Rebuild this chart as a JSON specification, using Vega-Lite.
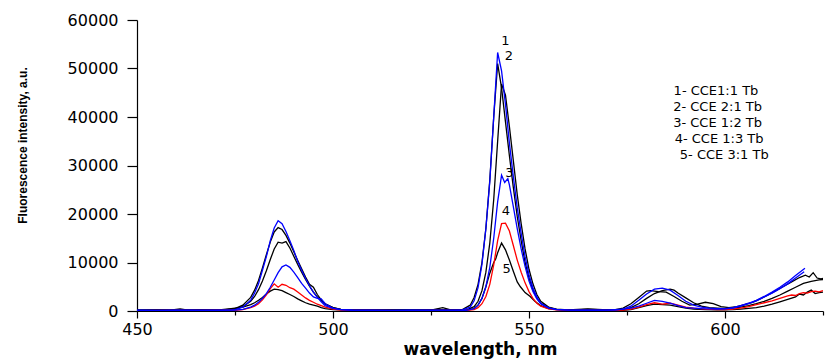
{
  "$schema": "https://vega.github.io/schema/vega-lite/v6.json",
  "width": 686,
  "height": 291,
  "autosize": {"type": "none"},
  "padding": {"left": 137, "top": 20, "right": 2, "bottom": 48},
  "background": "white",
  "config": {"view": {"stroke": null}, "axis": {"grid": false}},
  "datasets": {
    "curves": [
      {"c":"s1","w":450,"i":150},{"c":"s1","w":455,"i":120},{"c":"s1","w":460,"i":180},{"c":"s1","w":465,"i":140},{"c":"s1","w":470,"i":160},{"c":"s1","w":474,"i":200},
      {"c":"s1","w":475,"i":300},{"c":"s1","w":477,"i":800},{"c":"s1","w":479,"i":2200},{"c":"s1","w":480,"i":3700},{"c":"s1","w":481,"i":5600},{"c":"s1","w":482,"i":8400},{"c":"s1","w":483,"i":11200},{"c":"s1","w":484,"i":14500},{"c":"s1","w":485,"i":17100},{"c":"s1","w":486,"i":18600},{"c":"s1","w":487,"i":18000},{"c":"s1","w":488,"i":16400},{"c":"s1","w":489,"i":14500},{"c":"s1","w":490,"i":12500},{"c":"s1","w":491,"i":10200},{"c":"s1","w":492,"i":8400},{"c":"s1","w":493,"i":6700},{"c":"s1","w":494,"i":5200},{"c":"s1","w":495,"i":3900},{"c":"s1","w":496,"i":2800},{"c":"s1","w":497,"i":1900},{"c":"s1","w":498,"i":1100},{"c":"s1","w":500,"i":550},{"c":"s1","w":502,"i":280},{"c":"s1","w":505,"i":180},
      {"c":"s1","w":510,"i":150},{"c":"s1","w":515,"i":120},{"c":"s1","w":520,"i":150},{"c":"s1","w":525,"i":130},{"c":"s1","w":530,"i":180},
      {"c":"s1","w":533,"i":250},{"c":"s1","w":535,"i":800},{"c":"s1","w":536,"i":2100},{"c":"s1","w":537,"i":4800},{"c":"s1","w":538,"i":9600},{"c":"s1","w":539,"i":17000},{"c":"s1","w":540,"i":26700},{"c":"s1","w":541,"i":40000},{"c":"s1","w":542,"i":53300},{"c":"s1","w":543,"i":49500},{"c":"s1","w":544,"i":42600},{"c":"s1","w":545,"i":34600},{"c":"s1","w":546,"i":27700},{"c":"s1","w":547,"i":21300},{"c":"s1","w":548,"i":16000},{"c":"s1","w":549,"i":11200},{"c":"s1","w":550,"i":7500},{"c":"s1","w":551,"i":4800},{"c":"s1","w":552,"i":2900},{"c":"s1","w":553,"i":1600},{"c":"s1","w":555,"i":640},{"c":"s1","w":557,"i":320},{"c":"s1","w":560,"i":200},
      {"c":"s1","w":565,"i":150},{"c":"s1","w":570,"i":200},{"c":"s1","w":574,"i":400},{"c":"s1","w":576,"i":1000},{"c":"s1","w":578,"i":2200},{"c":"s1","w":580,"i":3500},{"c":"s1","w":582,"i":4500},{"c":"s1","w":584,"i":4700},{"c":"s1","w":586,"i":4300},{"c":"s1","w":588,"i":3200},{"c":"s1","w":590,"i":2000},{"c":"s1","w":592,"i":1200},{"c":"s1","w":594,"i":800},{"c":"s1","w":596,"i":600},{"c":"s1","w":598,"i":500},{"c":"s1","w":600,"i":500},{"c":"s1","w":602,"i":700},{"c":"s1","w":604,"i":1100},{"c":"s1","w":606,"i":1600},{"c":"s1","w":608,"i":2200},{"c":"s1","w":610,"i":3000},{"c":"s1","w":612,"i":3900},{"c":"s1","w":614,"i":4900},{"c":"s1","w":616,"i":6000},{"c":"s1","w":618,"i":7300},{"c":"s1","w":620.4,"i":8800},

      {"c":"s2","w":450,"i":100},{"c":"s2","w":455,"i":200},{"c":"s2","w":458,"i":150},{"c":"s2","w":461,"i":450},{"c":"s2","w":463,"i":200},{"c":"s2","w":468,"i":150},{"c":"s2","w":472,"i":250},{"c":"s2","w":474,"i":400},
      {"c":"s2","w":475,"i":500},{"c":"s2","w":477,"i":1200},{"c":"s2","w":479,"i":2800},{"c":"s2","w":480,"i":4300},{"c":"s2","w":481,"i":6300},{"c":"s2","w":482,"i":8900},{"c":"s2","w":483,"i":11600},{"c":"s2","w":484,"i":14200},{"c":"s2","w":485,"i":16300},{"c":"s2","w":486,"i":17200},{"c":"s2","w":487,"i":16800},{"c":"s2","w":488,"i":15600},{"c":"s2","w":489,"i":14000},{"c":"s2","w":490,"i":12200},{"c":"s2","w":491,"i":10400},{"c":"s2","w":492,"i":8700},{"c":"s2","w":493,"i":7000},{"c":"s2","w":494,"i":5500},{"c":"s2","w":495,"i":4900},{"c":"s2","w":496,"i":3400},{"c":"s2","w":497,"i":2300},{"c":"s2","w":498,"i":1500},{"c":"s2","w":500,"i":700},{"c":"s2","w":502,"i":350},{"c":"s2","w":505,"i":200},
      {"c":"s2","w":510,"i":200},{"c":"s2","w":515,"i":150},{"c":"s2","w":520,"i":180},{"c":"s2","w":525,"i":200},{"c":"s2","w":528,"i":700},{"c":"s2","w":530,"i":250},
      {"c":"s2","w":533,"i":300},{"c":"s2","w":535,"i":1200},{"c":"s2","w":536,"i":2800},{"c":"s2","w":537,"i":5500},{"c":"s2","w":538,"i":10000},{"c":"s2","w":539,"i":17000},{"c":"s2","w":540,"i":27000},{"c":"s2","w":541,"i":40000},{"c":"s2","w":542,"i":51000},{"c":"s2","w":543,"i":46000},{"c":"s2","w":544,"i":39000},{"c":"s2","w":545,"i":32000},{"c":"s2","w":546,"i":25500},{"c":"s2","w":547,"i":19500},{"c":"s2","w":548,"i":14500},{"c":"s2","w":549,"i":10000},{"c":"s2","w":550,"i":6800},{"c":"s2","w":551,"i":4400},{"c":"s2","w":552,"i":2700},{"c":"s2","w":553,"i":1600},{"c":"s2","w":555,"i":700},{"c":"s2","w":557,"i":350},{"c":"s2","w":560,"i":200},
      {"c":"s2","w":565,"i":350},{"c":"s2","w":570,"i":250},{"c":"s2","w":572,"i":300},{"c":"s2","w":574,"i":600},{"c":"s2","w":576,"i":1500},{"c":"s2","w":578,"i":2800},{"c":"s2","w":580,"i":4100},{"c":"s2","w":581,"i":4200},{"c":"s2","w":583,"i":4000},{"c":"s2","w":585,"i":3900},{"c":"s2","w":587,"i":3000},{"c":"s2","w":589,"i":2000},{"c":"s2","w":591,"i":1200},{"c":"s2","w":593,"i":1400},{"c":"s2","w":595,"i":1800},{"c":"s2","w":597,"i":1500},{"c":"s2","w":599,"i":900},{"c":"s2","w":601,"i":700},{"c":"s2","w":603,"i":900},{"c":"s2","w":605,"i":1300},{"c":"s2","w":607,"i":1800},{"c":"s2","w":609,"i":2500},{"c":"s2","w":611,"i":3300},{"c":"s2","w":613,"i":4200},{"c":"s2","w":615,"i":5100},{"c":"s2","w":617,"i":6000},{"c":"s2","w":619,"i":6900},{"c":"s2","w":620.5,"i":7400},{"c":"s2","w":621.5,"i":7000},{"c":"s2","w":622.5,"i":7900},{"c":"s2","w":623.5,"i":6800},{"c":"s2","w":624.5,"i":6600},{"c":"s2","w":625,"i":6700},

      {"c":"s3","w":450,"i":200},{"c":"s3","w":456,"i":150},{"c":"s3","w":462,"i":250},{"c":"s3","w":468,"i":180},{"c":"s3","w":473,"i":300},
      {"c":"s3","w":475,"i":400},{"c":"s3","w":477,"i":900},{"c":"s3","w":479,"i":2000},{"c":"s3","w":480,"i":3000},{"c":"s3","w":481,"i":4400},{"c":"s3","w":482,"i":6200},{"c":"s3","w":483,"i":8300},{"c":"s3","w":484,"i":10600},{"c":"s3","w":485,"i":12800},{"c":"s3","w":486,"i":14200},{"c":"s3","w":487,"i":14000},{"c":"s3","w":488,"i":14300},{"c":"s3","w":489,"i":13000},{"c":"s3","w":490,"i":11300},{"c":"s3","w":491,"i":9600},{"c":"s3","w":492,"i":8000},{"c":"s3","w":493,"i":6500},{"c":"s3","w":494,"i":5100},{"c":"s3","w":495,"i":3900},{"c":"s3","w":496,"i":2900},{"c":"s3","w":497,"i":2100},{"c":"s3","w":498,"i":1400},{"c":"s3","w":500,"i":700},{"c":"s3","w":502,"i":350},{"c":"s3","w":505,"i":250},
      {"c":"s3","w":510,"i":250},{"c":"s3","w":516,"i":200},{"c":"s3","w":522,"i":250},{"c":"s3","w":528,"i":200},{"c":"s3","w":531,"i":300},
      {"c":"s3","w":534,"i":200},{"c":"s3","w":536,"i":900},{"c":"s3","w":537,"i":2000},{"c":"s3","w":538,"i":4200},{"c":"s3","w":539,"i":8000},{"c":"s3","w":540,"i":14000},{"c":"s3","w":541,"i":23000},{"c":"s3","w":542,"i":35000},{"c":"s3","w":543,"i":46800},{"c":"s3","w":544,"i":44500},{"c":"s3","w":545,"i":38000},{"c":"s3","w":546,"i":31000},{"c":"s3","w":547,"i":24000},{"c":"s3","w":548,"i":18000},{"c":"s3","w":549,"i":12800},{"c":"s3","w":550,"i":8600},{"c":"s3","w":551,"i":5600},{"c":"s3","w":552,"i":3400},{"c":"s3","w":553,"i":2000},{"c":"s3","w":555,"i":800},{"c":"s3","w":557,"i":400},{"c":"s3","w":560,"i":250},
      {"c":"s3","w":565,"i":450},{"c":"s3","w":570,"i":250},{"c":"s3","w":574,"i":300},{"c":"s3","w":576,"i":700},{"c":"s3","w":578,"i":1500},{"c":"s3","w":580,"i":2600},{"c":"s3","w":582,"i":3600},{"c":"s3","w":584,"i":4200},{"c":"s3","w":586,"i":4500},{"c":"s3","w":587,"i":4300},{"c":"s3","w":588,"i":3700},{"c":"s3","w":590,"i":2700},{"c":"s3","w":592,"i":1700},{"c":"s3","w":594,"i":1000},{"c":"s3","w":596,"i":700},{"c":"s3","w":598,"i":600},{"c":"s3","w":600,"i":500},{"c":"s3","w":602,"i":600},{"c":"s3","w":604,"i":800},{"c":"s3","w":606,"i":1100},{"c":"s3","w":608,"i":1500},{"c":"s3","w":610,"i":2000},{"c":"s3","w":612,"i":2600},{"c":"s3","w":614,"i":3300},{"c":"s3","w":616,"i":4100},{"c":"s3","w":618,"i":4900},{"c":"s3","w":620,"i":5700},{"c":"s3","w":622,"i":6100},{"c":"s3","w":624,"i":6400},{"c":"s3","w":625,"i":6500},

      {"c":"s4","w":450,"i":120},{"c":"s4","w":457,"i":100},{"c":"s4","w":464,"i":150},{"c":"s4","w":470,"i":120},{"c":"s4","w":474,"i":200},
      {"c":"s4","w":475,"i":200},{"c":"s4","w":477,"i":350},{"c":"s4","w":479,"i":800},{"c":"s4","w":480,"i":1200},{"c":"s4","w":481,"i":1800},{"c":"s4","w":482,"i":2600},{"c":"s4","w":483,"i":3600},{"c":"s4","w":484,"i":4900},{"c":"s4","w":485,"i":6400},{"c":"s4","w":486,"i":7900},{"c":"s4","w":487,"i":9100},{"c":"s4","w":488,"i":9500},{"c":"s4","w":489,"i":9000},{"c":"s4","w":490,"i":8000},{"c":"s4","w":491,"i":6900},{"c":"s4","w":492,"i":5700},{"c":"s4","w":493,"i":4700},{"c":"s4","w":494,"i":3700},{"c":"s4","w":495,"i":2900},{"c":"s4","w":496,"i":2600},{"c":"s4","w":497,"i":2500},{"c":"s4","w":498,"i":1500},{"c":"s4","w":500,"i":600},{"c":"s4","w":502,"i":300},{"c":"s4","w":505,"i":150},
      {"c":"s4","w":510,"i":120},{"c":"s4","w":518,"i":100},{"c":"s4","w":525,"i":150},{"c":"s4","w":530,"i":120},
      {"c":"s4","w":534,"i":150},{"c":"s4","w":536,"i":500},{"c":"s4","w":537,"i":1200},{"c":"s4","w":538,"i":2600},{"c":"s4","w":539,"i":5000},{"c":"s4","w":540,"i":9000},{"c":"s4","w":541,"i":15000},{"c":"s4","w":542,"i":22500},{"c":"s4","w":543,"i":28000},{"c":"s4","w":543.8,"i":26500},{"c":"s4","w":544.6,"i":27300},{"c":"s4","w":545,"i":26000},{"c":"s4","w":546,"i":21500},{"c":"s4","w":547,"i":17000},{"c":"s4","w":548,"i":12800},{"c":"s4","w":549,"i":9200},{"c":"s4","w":550,"i":6200},{"c":"s4","w":551,"i":4000},{"c":"s4","w":552,"i":2500},{"c":"s4","w":553,"i":1500},{"c":"s4","w":555,"i":600},{"c":"s4","w":557,"i":300},{"c":"s4","w":560,"i":200},
      {"c":"s4","w":566,"i":150},{"c":"s4","w":572,"i":200},{"c":"s4","w":576,"i":600},{"c":"s4","w":578,"i":1000},{"c":"s4","w":580,"i":1600},{"c":"s4","w":582,"i":2200},{"c":"s4","w":584,"i":2000},{"c":"s4","w":586,"i":1600},{"c":"s4","w":588,"i":1100},{"c":"s4","w":590,"i":700},{"c":"s4","w":594,"i":500},{"c":"s4","w":598,"i":400},{"c":"s4","w":600,"i":450},{"c":"s4","w":602,"i":600},{"c":"s4","w":604,"i":1000},{"c":"s4","w":606,"i":1500},{"c":"s4","w":608,"i":2100},{"c":"s4","w":610,"i":2900},{"c":"s4","w":612,"i":3700},{"c":"s4","w":614,"i":4600},{"c":"s4","w":616,"i":5600},{"c":"s4","w":618,"i":6800},{"c":"s4","w":620.2,"i":8100},

      {"c":"s5","w":450,"i":80},{"c":"s5","w":458,"i":120},{"c":"s5","w":466,"i":100},{"c":"s5","w":474,"i":150},
      {"c":"s5","w":475,"i":150},{"c":"s5","w":477,"i":300},{"c":"s5","w":479,"i":700},{"c":"s5","w":480,"i":1000},{"c":"s5","w":481,"i":1500},{"c":"s5","w":482,"i":2300},{"c":"s5","w":483,"i":3300},{"c":"s5","w":484,"i":4600},{"c":"s5","w":485,"i":5600},{"c":"s5","w":486,"i":4900},{"c":"s5","w":487,"i":5500},{"c":"s5","w":488,"i":5300},{"c":"s5","w":489,"i":4800},{"c":"s5","w":490,"i":4500},{"c":"s5","w":491,"i":3900},{"c":"s5","w":492,"i":3300},{"c":"s5","w":493,"i":2700},{"c":"s5","w":494,"i":2200},{"c":"s5","w":495,"i":1800},{"c":"s5","w":496,"i":1400},{"c":"s5","w":497,"i":1100},{"c":"s5","w":498,"i":800},{"c":"s5","w":500,"i":400},{"c":"s5","w":502,"i":200},{"c":"s5","w":505,"i":100},
      {"c":"s5","w":510,"i":100},{"c":"s5","w":518,"i":80},{"c":"s5","w":526,"i":100},{"c":"s5","w":531,"i":100},
      {"c":"s5","w":534,"i":100},{"c":"s5","w":536,"i":300},{"c":"s5","w":537,"i":700},{"c":"s5","w":538,"i":1500},{"c":"s5","w":539,"i":3000},{"c":"s5","w":540,"i":5500},{"c":"s5","w":541,"i":9500},{"c":"s5","w":542,"i":14500},{"c":"s5","w":543,"i":18000},{"c":"s5","w":544,"i":18100},{"c":"s5","w":545,"i":16500},{"c":"s5","w":546,"i":13500},{"c":"s5","w":547,"i":10500},{"c":"s5","w":548,"i":8000},{"c":"s5","w":549,"i":5800},{"c":"s5","w":550,"i":4000},{"c":"s5","w":551,"i":2600},{"c":"s5","w":552,"i":1600},{"c":"s5","w":553,"i":1000},{"c":"s5","w":555,"i":450},{"c":"s5","w":557,"i":250},{"c":"s5","w":560,"i":150},
      {"c":"s5","w":566,"i":120},{"c":"s5","w":572,"i":150},{"c":"s5","w":574,"i":200},{"c":"s5","w":576,"i":400},{"c":"s5","w":578,"i":800},{"c":"s5","w":580,"i":1300},{"c":"s5","w":582,"i":1700},{"c":"s5","w":584,"i":1400},{"c":"s5","w":586,"i":1600},{"c":"s5","w":588,"i":1200},{"c":"s5","w":590,"i":800},{"c":"s5","w":592,"i":600},{"c":"s5","w":595,"i":400},{"c":"s5","w":598,"i":300},{"c":"s5","w":600,"i":300},{"c":"s5","w":602,"i":400},{"c":"s5","w":604,"i":600},{"c":"s5","w":606,"i":900},{"c":"s5","w":608,"i":1300},{"c":"s5","w":610,"i":1700},{"c":"s5","w":612,"i":2100},{"c":"s5","w":614,"i":2600},{"c":"s5","w":616,"i":3100},{"c":"s5","w":617,"i":3300},{"c":"s5","w":618,"i":3200},{"c":"s5","w":619,"i":3600},{"c":"s5","w":620,"i":3800},{"c":"s5","w":621,"i":3700},{"c":"s5","w":622,"i":4000},{"c":"s5","w":623,"i":4100},{"c":"s5","w":624,"i":3950},{"c":"s5","w":625,"i":4200},

      {"c":"s6","w":450,"i":180},{"c":"s6","w":455,"i":250},{"c":"s6","w":460,"i":200},{"c":"s6","w":466,"i":300},{"c":"s6","w":471,"i":250},{"c":"s6","w":474,"i":500},
      {"c":"s6","w":475,"i":600},{"c":"s6","w":477,"i":800},{"c":"s6","w":479,"i":1300},{"c":"s6","w":480,"i":1700},{"c":"s6","w":481,"i":2200},{"c":"s6","w":482,"i":2800},{"c":"s6","w":483,"i":3500},{"c":"s6","w":484,"i":4100},{"c":"s6","w":485,"i":4500},{"c":"s6","w":486,"i":4400},{"c":"s6","w":487,"i":4200},{"c":"s6","w":488,"i":3800},{"c":"s6","w":489,"i":3400},{"c":"s6","w":490,"i":3000},{"c":"s6","w":491,"i":2500},{"c":"s6","w":492,"i":2100},{"c":"s6","w":493,"i":1700},{"c":"s6","w":494,"i":1400},{"c":"s6","w":495,"i":1200},{"c":"s6","w":496,"i":1000},{"c":"s6","w":497,"i":700},{"c":"s6","w":498,"i":500},{"c":"s6","w":500,"i":300},{"c":"s6","w":502,"i":250},{"c":"s6","w":505,"i":200},
      {"c":"s6","w":510,"i":200},{"c":"s6","w":516,"i":250},{"c":"s6","w":522,"i":150},{"c":"s6","w":527,"i":300},{"c":"s6","w":531,"i":200},
      {"c":"s6","w":534,"i":150},{"c":"s6","w":536,"i":500},{"c":"s6","w":537,"i":1200},{"c":"s6","w":538,"i":2600},{"c":"s6","w":539,"i":5000},{"c":"s6","w":540,"i":7800},{"c":"s6","w":541,"i":10000},{"c":"s6","w":541.5,"i":10700},{"c":"s6","w":542,"i":12000},{"c":"s6","w":543,"i":14000},{"c":"s6","w":544,"i":12600},{"c":"s6","w":545,"i":10500},{"c":"s6","w":546,"i":8200},{"c":"s6","w":547,"i":6000},{"c":"s6","w":547.8,"i":5000},{"c":"s6","w":549,"i":3800},{"c":"s6","w":550.3,"i":3000},{"c":"s6","w":551.5,"i":2000},{"c":"s6","w":553,"i":1100},{"c":"s6","w":555,"i":500},{"c":"s6","w":557,"i":300},{"c":"s6","w":560,"i":200},
      {"c":"s6","w":566,"i":200},{"c":"s6","w":572,"i":150},{"c":"s6","w":574,"i":150},{"c":"s6","w":576,"i":300},{"c":"s6","w":578,"i":700},{"c":"s6","w":580,"i":1100},{"c":"s6","w":582,"i":1400},{"c":"s6","w":584,"i":1300},{"c":"s6","w":586,"i":1200},{"c":"s6","w":588,"i":900},{"c":"s6","w":590,"i":600},{"c":"s6","w":592,"i":400},{"c":"s6","w":595,"i":300},{"c":"s6","w":598,"i":250},{"c":"s6","w":600,"i":250},{"c":"s6","w":602,"i":300},{"c":"s6","w":604,"i":400},{"c":"s6","w":606,"i":550},{"c":"s6","w":608,"i":700},{"c":"s6","w":610,"i":1000},{"c":"s6","w":612,"i":1400},{"c":"s6","w":614,"i":1900},{"c":"s6","w":616,"i":2400},{"c":"s6","w":618,"i":2900},{"c":"s6","w":619,"i":3500},{"c":"s6","w":620,"i":3300},{"c":"s6","w":621,"i":3900},{"c":"s6","w":622,"i":4300},{"c":"s6","w":623,"i":3600},{"c":"s6","w":624,"i":3800},{"c":"s6","w":625,"i":3900}
    ],
    "peaks": [
      {"t":"1","w":544.0,"i":55700},
      {"t":"2","w":544.9,"i":52500},
      {"t":"3","w":545.0,"i":28400},
      {"t":"4","w":544.1,"i":20600},
      {"t":"5","w":544.3,"i":8600}
    ],
    "legend": [
      {"t":"1- CCE1:1 Tb","w":597.7,"i":45360},
      {"t":"2- CCE 2:1 Tb","w":598.1,"i":42060},
      {"t":"3- CCE 1:2 Tb","w":598.1,"i":38760},
      {"t":"4- CCE 1:3 Tb","w":598.5,"i":35460},
      {"t":"5- CCE 3:1 Tb","w":599.8,"i":32160}
    ]
  },
  "layer": [
    {
      "data": {"name": "curves"},
      "transform": [{"filter": {"field": "c", "oneOf": ["s2", "s3", "s6"]}}],
      "mark": {"type": "line", "strokeWidth": 1.3, "clip": true},
      "encoding": {
        "x": {"field": "w", "type": "quantitative", "scale": {"domain": [450, 625], "nice": false},
          "axis": {"title": "wavelength, nm", "values": [450, 475, 500, 525, 550, 575, 600, 625], "format": "d",
            "labelExpr": "datum.value % 50 === 0 ? datum.label : ''",
            "tickSize": {"condition": {"test": "datum.value % 50 === 0", "value": 7}, "value": 4},
            "labelFont": "DejaVu Sans", "labelFontSize": 16, "labelPadding": 3, "labelColor": "#000000",
            "labelFlush": false, "labelOverlap": false,
            "tickColor": "#000000", "domainColor": "#000000", "domainWidth": 1.2, "tickWidth": 1.2,
            "titleFont": "DejaVu Sans", "titleFontWeight": "bold", "titleFontSize": 17, "titleColor": "#000000",
            "titleY": 43, "titleBaseline": "alphabetic"}},
        "y": {"field": "i", "type": "quantitative", "scale": {"domain": [0, 60000], "nice": false},
          "axis": {"title": "Fluorescence intensity, a.u.", "values": [0, 5000, 10000, 15000, 20000, 25000, 30000, 35000, 40000, 45000, 50000, 55000, 60000], "format": "d",
            "labelExpr": "datum.value % 10000 === 0 ? datum.label : ''",
            "tickSize": {"condition": {"test": "datum.value % 10000 === 0", "value": 10}, "value": 5},
            "labelFont": "DejaVu Sans", "labelFontSize": 16, "labelPadding": 9, "labelColor": "#000000",
            "labelFlush": false, "labelOverlap": false,
            "tickColor": "#000000", "domainColor": "#000000", "domainWidth": 1.2, "tickWidth": 1.2,
            "titleFont": "Liberation Sans", "titleFontWeight": "bold", "titleFontSize": 12, "titleColor": "#000000",
            "titleAngle": 270, "titleBaseline": "middle", "titleAlign": "center", "titleX": -115, "titleY": 125}},
        "color": {"field": "c", "type": "nominal", "legend": null,
          "scale": {"domain": ["s1", "s2", "s3", "s4", "s5", "s6"], "range": ["#0000ff", "#000000", "#000000", "#0000ff", "#ff0000", "#000000"]}}
      }
    },
    {
      "data": {"name": "curves"},
      "transform": [{"filter": {"field": "c", "oneOf": ["s5"]}}],
      "mark": {"type": "line", "strokeWidth": 1.3, "clip": true},
      "encoding": {
        "x": {"field": "w", "type": "quantitative", "scale": {"domain": [450, 625], "nice": false}},
        "y": {"field": "i", "type": "quantitative", "scale": {"domain": [0, 60000], "nice": false}},
        "color": {"field": "c", "type": "nominal", "legend": null}
      }
    },
    {
      "data": {"name": "curves"},
      "transform": [{"filter": {"field": "c", "oneOf": ["s1", "s4"]}}],
      "mark": {"type": "line", "strokeWidth": 1.3, "clip": true},
      "encoding": {
        "x": {"field": "w", "type": "quantitative", "scale": {"domain": [450, 625], "nice": false}},
        "y": {"field": "i", "type": "quantitative", "scale": {"domain": [0, 60000], "nice": false}},
        "color": {"field": "c", "type": "nominal", "legend": null}
      }
    },
    {
      "data": {"name": "peaks"},
      "mark": {"type": "text", "font": "DejaVu Sans", "fontSize": 13, "align": "center", "baseline": "middle", "color": "#000000"},
      "encoding": {
        "x": {"field": "w", "type": "quantitative", "scale": {"domain": [450, 625], "nice": false}},
        "y": {"field": "i", "type": "quantitative", "scale": {"domain": [0, 60000], "nice": false}},
        "text": {"field": "t", "type": "nominal"}
      }
    },
    {
      "data": {"name": "legend"},
      "mark": {"type": "text", "font": "DejaVu Sans", "fontSize": 13, "align": "center", "baseline": "middle", "color": "#000000"},
      "encoding": {
        "x": {"field": "w", "type": "quantitative", "scale": {"domain": [450, 625], "nice": false}},
        "y": {"field": "i", "type": "quantitative", "scale": {"domain": [0, 60000], "nice": false}},
        "text": {"field": "t", "type": "nominal"}
      }
    }
  ]
}
